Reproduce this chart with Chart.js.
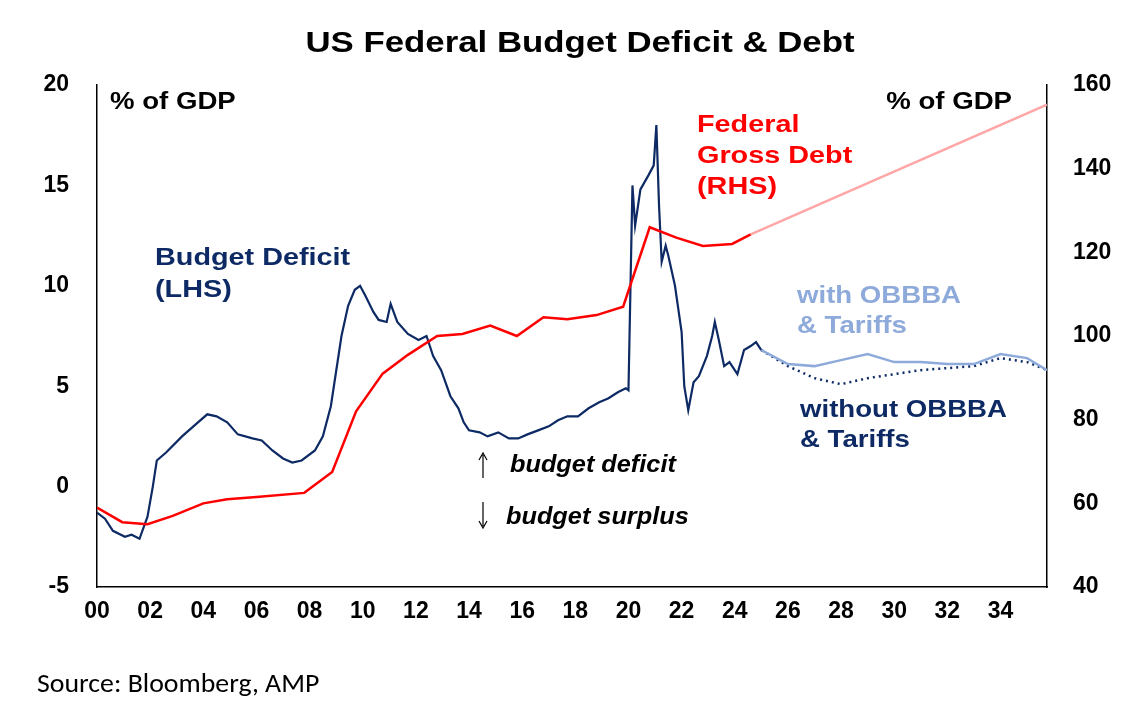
<!DOCTYPE html>
<html><head><meta charset="utf-8">
<script src="https://cdn.jsdelivr.net/npm/chart.js@4/dist/chart.umd.min.js"></script>
<style>body{margin:0;background:#fff}#wrap{width:1147px;height:715px}</style>
</head><body><div id="wrap"><canvas id="c"></canvas></div>
<script>
// years since 2000
const defYears = [0,0.3,0.6,1.05,1.3,1.6,1.9,2.1,2.25,2.6,3.2,3.8,4.15,4.5,4.9,5.3,5.85,6.2,6.6,7,7.35,7.7,8.2,8.5,8.8,9.2,9.45,9.7,9.9,10.1,10.4,10.6,10.9,11.05,11.3,11.7,12.1,12.4,12.65,12.95,13.3,13.6,13.8,14,14.4,14.7,15.1,15.5,15.85,16.2,16.6,17,17.35,17.7,18.1,18.5,18.9,19.25,19.6,19.9,20.0,20.15,20.25,20.45,20.75,20.95,21.05,21.15,21.25,21.4,21.5,21.75,22,22.1,22.25,22.45,22.65,22.95,23.15,23.25,23.4,23.6,23.8,24.1,24.35,24.6,24.8,25];
const deficit = [-1.3,-1.6,-2.2,-2.5,-2.4,-2.6,-1.5,0,1.3,1.7,2.5,3.2,3.6,3.5,3.2,2.6,2.4,2.3,1.8,1.4,1.2,1.3,1.8,2.5,4.0,7.5,9.0,9.8,10,9.5,8.7,8.3,8.2,9.1,8.2,7.6,7.3,7.5,6.5,5.8,4.5,3.9,3.2,2.8,2.7,2.5,2.7,2.4,2.4,2.6,2.8,3.0,3.3,3.5,3.5,3.9,4.2,4.4,4.7,4.9,4.8,15,13,14.8,15.5,16,18,14,11.2,12,11.5,10,7.7,5,3.8,5.2,5.5,6.5,7.5,8.2,7.3,6,6.2,5.6,6.8,7.0,7.2,6.8];
const projYears = [25,26,27,28,29,30,31,32,33,34,35,35.75];
const withObbba = [6.8,6.1,6.0,6.3,6.6,6.2,6.2,6.1,6.1,6.6,6.4,5.8];
const withoutObbba = [6.8,6.0,5.4,5.1,5.4,5.6,5.8,5.9,6.0,6.4,6.2,5.8];
const debtYears = [0,0.95,1.9,2.85,4.0,4.9,6.0,7.8,8.85,9.75,10.75,11.7,12.8,13.75,14.8,15.8,16.8,17.7,18.8,19.8,20.8,21.8,22.8,23.9,24.6];
const debt = [59,55.5,55,57,60,61,61.5,62.5,67.5,82,91,95.5,100,100.5,102.5,100,104.5,104,105,107,126,123.5,121.5,122,124.3];
const debtProjYears = [24.6,35.75];
const debtProj = [124.3,155.3];
const xTicks = [0,2,4,6,8,10,12,14,16,18,20,22,24,26,28,30,32,34];

const pts = (xs, ys) => xs.map((x, i) => ({x: x, y: ys[i]}));
const F = 'Arial, "Liberation Sans", sans-serif';

// horizontally stretched text, like the wide font of the original
function txt(c, s, x, y, sx) {
  c.save(); c.translate(x, y); c.scale(sx, 1); c.fillText(s, 0, 0); c.restore();
}

const annot = {
  id: 'annot',
  afterDraw(ch) {
    const c = ch.ctx;
    c.save();
    c.fillStyle = '#000'; c.textBaseline = 'middle';
    c.font = 'bold 29px ' + F; c.textAlign = 'center';
    txt(c, 'US Federal Budget Deficit & Debt', 580, 44, 1.2);
    c.font = 'bold 24px ' + F; c.textAlign = 'left';
    txt(c, '% of GDP', 110, 102, 1.15);
    c.textAlign = 'right'; txt(c, '% of GDP', 1012, 102, 1.15);
    c.textAlign = 'left';
    c.fillStyle = '#ff0000';
    txt(c, 'Federal', 697, 125, 1.2); txt(c, 'Gross Debt', 697, 156, 1.2); txt(c, '(RHS)', 697, 187, 1.2);
    c.fillStyle = '#0d2a64';
    txt(c, 'Budget Deficit', 155, 258, 1.2); txt(c, '(LHS)', 155, 290, 1.2);
    txt(c, 'without OBBBA', 800, 410, 1.15); txt(c, '& Tariffs', 800, 440, 1.15);
    c.fillStyle = '#8eaadb';
    txt(c, 'with OBBBA', 797, 296, 1.15); txt(c, '& Tariffs', 797, 326, 1.15);
    c.fillStyle = '#000'; c.font = 'bold italic 23px ' + F;
    txt(c, 'budget deficit', 510, 466, 1.1); txt(c, 'budget surplus', 506, 518, 1.1);
    c.font = '27px Carlito, Calibri, "Open Sans", sans-serif';
    txt(c, 'Source: Bloomberg, AMP', 37, 685, 1.03);
    // arrows
    c.strokeStyle = '#000'; c.lineWidth = 1.2;
    c.beginPath(); c.moveTo(483, 478); c.lineTo(483, 455); c.moveTo(479, 460); c.lineTo(483, 453); c.lineTo(487, 460);
    c.moveTo(483, 502); c.lineTo(483, 526); c.moveTo(479, 521); c.lineTo(483, 528); c.lineTo(487, 521); c.stroke();
    c.restore();
  }
};

const tickFont = { family: F, size: 23, weight: 'bold' };

new Chart(document.getElementById('c'), {
  type: 'line',
  data: { datasets: [
    { data: pts(debtProjYears, debtProj), borderColor: '#ffa6a6', borderWidth: 2.5, yAxisID: 'y1' },
    { data: pts(debtYears, debt), borderColor: '#ff0000', borderWidth: 2.5, yAxisID: 'y1' },
    { data: pts(projYears, withObbba), borderColor: '#8eaadb', borderWidth: 2.5, yAxisID: 'y' },
    { data: pts(projYears, withoutObbba), borderColor: '#0d2a64', borderWidth: 2.5, borderDash: [2, 4], yAxisID: 'y' },
    { data: pts(defYears, deficit), borderColor: '#0d2a64', borderWidth: 2.2, yAxisID: 'y' }
  ]},
  options: {
    responsive: true, maintainAspectRatio: false, animation: false,
    elements: { point: { radius: 0 }, line: { tension: 0 } },
    layout: { padding: { top: 85, bottom: 78, left: 0, right: 0 } },
    plugins: { legend: { display: false }, tooltip: { enabled: false } },
    scales: {
      x: { type: 'linear', min: 0, max: 35.75,
        afterFit: s => { s.height = 50; },
        afterBuildTicks: s => { s.ticks = xTicks.map(v => ({ value: v })); },
        grid: { display: false }, border: { color: '#000', width: 1.5 },
        ticks: { color: '#000', font: tickFont,
          callback: v => String(v).padStart(2, '0'), maxRotation: 0, autoSkip: false } },
      y: { position: 'left', min: -5, max: 20,
        afterFit: s => { s.width = 97; },
        grid: { display: false }, border: { color: '#000', width: 1.5 },
        ticks: { stepSize: 5, color: '#000', padding: 20, font: tickFont } },
      y1: { position: 'right', min: 40, max: 160,
        afterFit: s => { s.width = 100; },
        grid: { display: false }, border: { color: '#000', width: 1.5 },
        ticks: { stepSize: 20, color: '#000', padding: 18, font: tickFont } }
    }
  },
  plugins: [annot]
});
</script></body></html>
